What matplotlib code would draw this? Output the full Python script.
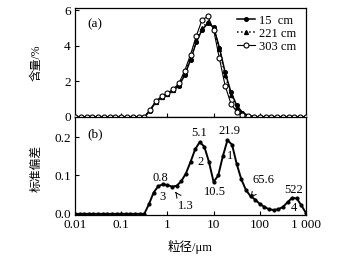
import numpy as np
import matplotlib
matplotlib.use("Agg")
import matplotlib.pyplot as plt

plt.rcParams['font.family'] = ['Liberation Serif', 'Noto Sans CJK SC']
plt.rcParams['mathtext.fontset'] = 'stix'

# ---- data ----
# panel (a): grain size distribution (log10 of size, step 0.125 decade)
size_a_log = np.arange(-2.0, 3.0001, 0.125)
dist_15 = [0, 0, 0, 0, 0, 0, 0, 0, 0, 0, 0, 0, 0,
           0.35, 0.85, 1.10, 1.30, 1.50, 1.75, 2.35, 3.20, 4.20, 4.90, 5.25,
           5.05, 3.90, 2.50, 1.40, 0.65, 0.25, 0.08, 0.02, 0, 0, 0, 0, 0, 0, 0, 0, 0]
dist_221 = [0, 0, 0, 0, 0, 0, 0, 0, 0, 0, 0, 0, 0,
            0.38, 0.85, 1.10, 1.30, 1.50, 1.80, 2.45, 3.30, 4.30, 5.00, 5.35,
            5.00, 3.80, 2.35, 1.25, 0.55, 0.20, 0.06, 0.01, 0, 0, 0, 0, 0, 0, 0, 0, 0]
dist_303 = [0, 0, 0, 0, 0, 0, 0, 0, 0, 0, 0, 0, 0,
            0.40, 0.90, 1.15, 1.35, 1.55, 1.90, 2.60, 3.50, 4.55, 5.45, 5.65,
            4.90, 3.30, 1.75, 0.75, 0.30, 0.10, 0.03, 0, 0, 0, 0, 0, 0, 0, 0, 0, 0]
series_labels = ["15  cm", "221 cm", "303 cm"]

# panel (b): standard deviation (log10 of size, step 0.1 decade)
size_b_log = np.arange(-2.0, 3.0001, 0.1)
std_dev = [0, 0, 0, 0, 0, 0, 0, 0, 0, 0, 0, 0, 0, 0, 0, 0,
           0.025, 0.055, 0.072, 0.077, 0.075, 0.071, 0.073, 0.085, 0.105, 0.135,
           0.168, 0.187, 0.175, 0.135, 0.083, 0.100, 0.150, 0.192, 0.180, 0.130,
           0.090, 0.062, 0.046, 0.037, 0.026, 0.018, 0.012, 0.010, 0.012, 0.018,
           0.030, 0.042, 0.040, 0.022, 0.002]

xtick_vals = [0.01, 0.1, 1, 10, 100, 1000]
xtick_labels = ["0.01", "0.1", "1", "10", "100", "1 000"]

size_a = 10 ** size_a_log
size_b = 10 ** size_b_log

W, H = 357, 258
fig = plt.figure(figsize=(W / 100, H / 100), dpi=100)
L, R = 75 / W, 306 / W
top_a, mid, bot_b = 1 - 8 / H, 1 - 117.5 / H, 1 - 215 / H
axa = fig.add_axes([L, mid, R - L, top_a - mid])
axb = fig.add_axes([L, bot_b, R - L, mid - bot_b])

lw = 1.1
axa.plot(size_a, dist_15, '-', color='black', lw=lw, marker='o', ms=2.6,
         mfc='black', mec='black', label=series_labels[0], zorder=3)
axa.plot(size_a, dist_221, ':', color='black', lw=lw, marker='^', ms=2.8,
         mfc='black', mec='black', label=series_labels[1], zorder=3)
axa.plot(size_a, dist_303, '-', color='black', lw=0.8, marker='o', ms=3.6,
         mfc='white', mec='black', mew=0.8, label=series_labels[2], zorder=4)

axb.plot(size_b, std_dev, '-', color='black', lw=1.4, marker='o', ms=2.0,
         mfc='black', mec='black', zorder=3)

for ax in (axa, axb):
    ax.set_xscale('log')
    ax.set_xlim(0.01, 1000)
    ax.set_xticks(xtick_vals)
    ax.minorticks_off()
    ax.tick_params(direction='in', length=3, width=0.8, labelsize=9.5, pad=3,
                   top=False, right=False)
    for s in ax.spines.values():
        s.set_linewidth(0.9)

axa.set_xticklabels([])
axb.set_xticklabels(xtick_labels)

axa.set_ylim(-0.03, 6.12)
axa.set_yticks([0, 2, 4, 6])
axa.set_yticklabels(["0", "2", "4", "6"])
axb.set_ylim(-0.003, 0.251)
axb.set_yticks([0.0, 0.1, 0.2])
axb.set_yticklabels(["0.0", "0.1", "0.2"])

axa.text(0.087, 0.85, "(a)", transform=axa.transAxes, fontsize=9.5,
         ha='center', va='center')
axb.text(0.087, 0.83, "(b)", transform=axb.transAxes, fontsize=9.5,
         ha='center', va='center')

leg = axa.legend(loc='upper left', bbox_to_anchor=(0.70, 0.94), frameon=False,
                 fontsize=9, handlelength=1.5, handletextpad=0.25,
                 labelspacing=0.08, borderpad=0, borderaxespad=0)

fig.text(37 / W, 1 - 63 / H, "含量/%", rotation=90, fontsize=8.5,
         ha='center', va='center')
fig.text(37 / W, 1 - 168 / H, "标准偏差", rotation=90, fontsize=8.5,
         ha='center', va='center')
fig.text(190 / W, 1 - 247 / H, "粒径/μm", fontsize=9,
         ha='center', va='center')

fs = 9
axb.text(0.70, 0.094, "0.8", fontsize=fs, ha='center', va='center')
axb.text(0.78, 0.044, "3", fontsize=fs, ha='center', va='center')
axb.annotate("1.3", xy=(1.49, 0.057), xytext=(2.45, 0.021), fontsize=fs,
             ha='center', va='center',
             arrowprops=dict(arrowstyle='->', lw=0.7, color='black',
                             shrinkA=4, shrinkB=0))
axb.text(4.97, 0.21, "5.1", fontsize=fs, ha='center', va='center')
axb.text(5.2, 0.135, "2", fontsize=fs, ha='center', va='center')
axb.text(22.3, 0.216, "21.9", fontsize=fs, ha='center', va='center')
axb.text(22.3, 0.15, "1", fontsize=fs, ha='center', va='center')
axb.text(10.5, 0.057, "10.5", fontsize=fs, ha='center', va='center')
axb.annotate("65.6", xy=(63, 0.042), xytext=(122, 0.088), fontsize=fs,
             ha='center', va='center',
             arrowprops=dict(arrowstyle='->', lw=0.7, color='black',
                             shrinkA=5, shrinkB=0))
axb.text(550, 0.062, "522", fontsize=fs, ha='center', va='center')
axb.text(550, 0.014, "4", fontsize=fs, ha='center', va='center')

fig.savefig("out.png", dpi=100)
